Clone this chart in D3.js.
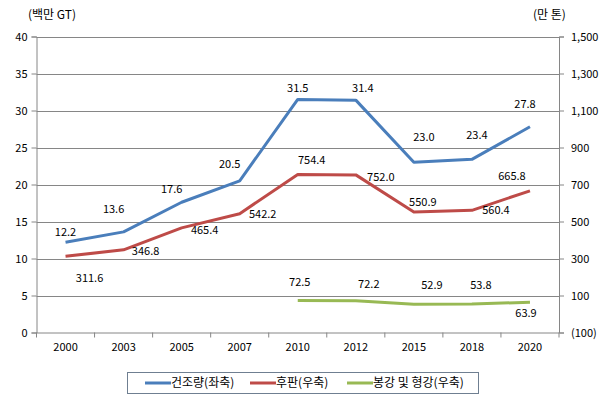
<!DOCTYPE html>
<html>
<head>
<meta charset="utf-8">
<script src="https://cdn.jsdelivr.net/npm/d3@7"></script>
<style>
  body { margin: 0; background: #fff; }
  svg { display: block; }
  text { font-family: 'Noto Sans CJK KR', 'Noto Sans', sans-serif; fill: #000; }
</style>
</head>
<body>
<svg width="605" height="403"></svg>
<script>
'use strict'

const years = ['2000', '2003', '2005', '2007', '2010', '2012', '2015', '2018', '2020']
const shipbuilding = [12.2, 13.6, 17.6, 20.5, 31.5, 31.4, 23.0, 23.4, 27.8]
const plate = [311.6, 346.8, 465.4, 542.2, 754.4, 752.0, 550.9, 560.4, 665.8]
const barSection = [null, null, null, null, 72.5, 72.2, 52.9, 53.8, 63.9]
const leftTicks = [0, 5, 10, 15, 20, 25, 30, 35, 40]
const rightTicks = [-100, 100, 300, 500, 700, 900, 1100, 1300, 1500]
const seriesNames = ['건조량(좌축)', '후판(우축)', '봉강 및 형강(우축)']

// label nudges (px)
const nudgeBlue = [[0, -10], [-10, -23], [-10, -13], [-10, -17], [0, -11], [7, -12], [10, -25], [5, -24], [-5, -23]]
const nudgeRed = [[24, 22], [22, 1], [23, 2], [23, 0], [14, -14], [25, 2], [9, -10], [24, 0], [-18, -15]]
const nudgeGreen = [null, null, null, null, [2, -18], [13, -16], [18, -19], [9, -19], [-4, 11]]

const svg = d3.select('svg')
const plotLeft = 36.5
const plotRight = 559
const plotTop = 36.5
const plotBottom = 332.5
const grid = '#868686'

const x = d3.scaleBand().domain(years).range([plotLeft, plotRight])
const yL = d3.scaleLinear().domain([0, 40]).range([plotBottom, plotTop])
const yR = d3.scaleLinear().domain([-100, 1500]).range([plotBottom, plotTop])

// gridlines
svg.append('g')
  .selectAll('line')
  .data(leftTicks.slice(1))
  .enter().append('line')
  .attr('x1', plotLeft).attr('x2', plotRight)
  .attr('y1', d => Math.round(yL(d)) + 0.5).attr('y2', d => Math.round(yL(d)) + 0.5)
  .attr('stroke', grid)

const fmtR = d => d < 0 ? `(${d3.format(',')(-d)})` : d3.format(',')(d)

const axL = svg.append('g').attr('transform', `translate(${plotLeft},0)`)
  .call(d3.axisLeft(yL).tickValues(leftTicks).tickSize(5).tickPadding(4))
const axR = svg.append('g').attr('transform', `translate(${plotRight},0)`)
  .call(d3.axisRight(yR).tickValues(rightTicks).tickFormat(fmtR).tickSize(5).tickPadding(7))
const axB = svg.append('g').attr('transform', `translate(0,${plotBottom})`)
  .call(d3.axisBottom(x).tickSize(0).tickPadding(11))

svg.append('g').selectAll('line')
  .data(d3.range(years.length + 1))
  .enter().append('line')
  .attr('x1', i => plotLeft + i * x.step()).attr('x2', i => plotLeft + i * x.step())
  .attr('y1', plotBottom).attr('y2', plotBottom + 5)
  .attr('stroke', grid)

;[axL, axR, axB].forEach(a => {
  a.selectAll('path.domain').attr('stroke', grid)
  a.selectAll('.tick line').attr('stroke', grid)
  a.selectAll('text').attr('font-size', 11).attr('font-family', "'Noto Sans CJK KR', sans-serif")
})
axB.select('path.domain').attr('d', `M${plotLeft},0.5H${plotRight}`)

svg.append('text').attr('x', 28).attr('y', 19).attr('font-size', 12).text('(백만 GT)')
svg.append('text').attr('x', 533).attr('y', 19).attr('font-size', 12).text('(만 톤)')

const cx = d => x(d) + x.bandwidth() / 2

function drawSeries (values, scale, color, nudge) {
  const pts = years.map((yr, i) => ({ yr, v: values[i], n: nudge[i] })).filter(d => d.v !== null)
  svg.append('path')
    .datum(pts)
    .attr('fill', 'none')
    .attr('stroke', color)
    .attr('stroke-width', 3)
    .attr('stroke-linejoin', 'round')
    .attr('d', d3.line().x(d => cx(d.yr)).y(d => scale(d.v)))
  svg.append('g').selectAll('text')
    .data(pts)
    .enter().append('text')
    .attr('x', d => cx(d.yr) + d.n[0])
    .attr('y', d => scale(d.v) + d.n[1])
    .attr('dy', '0.35em')
    .attr('text-anchor', 'middle')
    .attr('font-size', 11)
    .text(d => d3.format('.1f')(d.v))
}

drawSeries(shipbuilding, yL, '#4a7ebb', nudgeBlue)
drawSeries(plate, yR, '#be4b48', nudgeRed)
drawSeries(barSection, yR, '#98b954', nudgeGreen)

// legend
const legend = svg.append('g')
legend.append('rect')
  .attr('x', 127.5).attr('y', 372.5).attr('width', 351).attr('height', 21)
  .attr('fill', '#fff').attr('stroke', '#6f7f91')
const legendX = [145, 250, 347]
const colors = ['#4a7ebb', '#be4b48', '#98b954']
seriesNames.forEach((name, i) => {
  legend.append('line')
    .attr('x1', legendX[i]).attr('x2', legendX[i] + 26)
    .attr('y1', 383).attr('y2', 383)
    .attr('stroke', colors[i]).attr('stroke-width', 3)
  legend.append('text')
    .attr('x', legendX[i] + 26).attr('y', 383).attr('dy', '0.35em')
    .attr('font-size', 12).text(name)
})
</script>
</body>
</html>
